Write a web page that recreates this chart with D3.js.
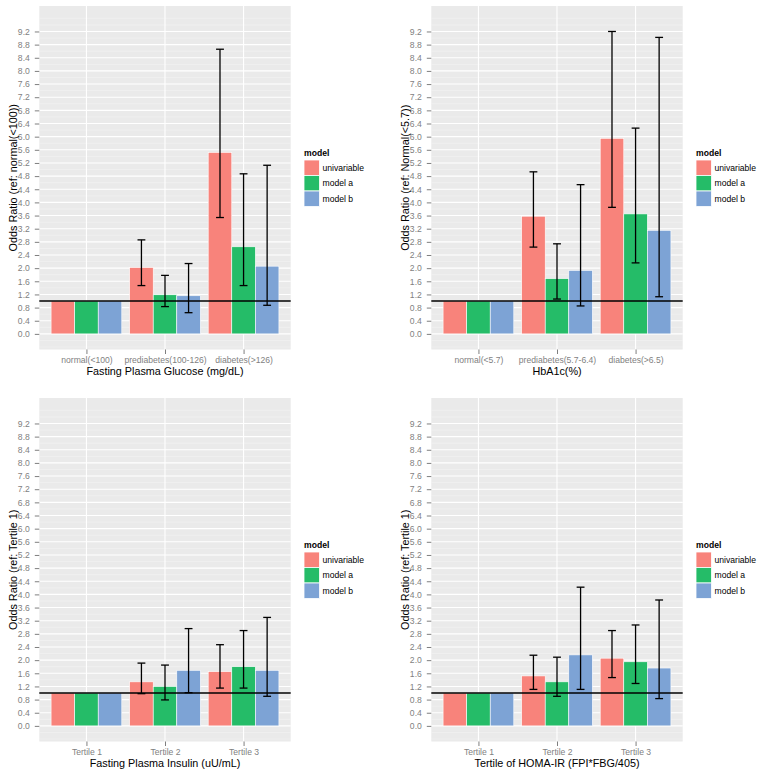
<!DOCTYPE html>
<html>
<head>
<meta charset="utf-8">
<script src="https://cdn.jsdelivr.net/npm/d3@7"></script>
<style>
  html, body { margin: 0; padding: 0; background: #ffffff; }
  svg { display: block; font-family: "Liberation Sans", Arial, sans-serif; }
</style>
</head>
<body>
<svg id="chart" width="763" height="776"></svg>
<script>
// ---------- data ----------
const models = ["univariable", "model a", "model b"];
const modelColors = ["#F8837B", "#25BC68", "#7DA3D5"];
const yTicks = [0.0, 0.4, 0.8, 1.2, 1.6, 2.0, 2.4, 2.8, 3.2, 3.6, 4.0, 4.4, 4.8, 5.2, 5.6, 6.0, 6.4, 6.8, 7.2, 7.6, 8.0, 8.4, 8.8, 9.2];
const yMinor = [-0.4, -0.2, 0.2, 0.6, 1.0, 1.4, 1.8, 2.2, 2.6, 3.0, 3.4, 3.8, 4.2, 4.6, 5.0, 5.4, 5.8, 6.2, 6.6, 7.0, 7.4, 7.8, 8.2, 8.6, 9.0, 9.4, 9.6];
const refLine = 1;

// Panel 1: Fasting Plasma Glucose
const fpgCats = ["normal(<100)", "prediabetes(100-126)", "diabetes(>126)"];
const fpgOR   = [[1, 1, 1], [2.02, 1.19, 1.16], [5.52, 2.65, 2.06]];
const fpgLow  = [null, [1.47, 0.83, 0.645], [3.54, 1.47, 0.87]];
const fpgHigh = [null, [2.86, 1.78, 2.14], [8.66, 4.87, 5.13]];

// Panel 2: HbA1c
const hbaCats = ["normal(<5.7)", "prediabetes(5.7-6.4)", "diabetes(>6.5)"];
const hbaOR   = [[1, 1, 1], [3.58, 1.68, 1.93], [5.95, 3.65, 3.15]];
const hbaLow  = [null, [2.64, 1.06, 0.85], [3.85, 2.16, 1.13]];
const hbaHigh = [null, [4.93, 2.74, 4.54], [9.20, 6.26, 9.02]];

// Panel 3: Fasting Plasma Insulin
const fpiCats = ["Tertile 1", "Tertile 2", "Tertile 3"];
const fpiOR   = [[1, 1, 1], [1.34, 1.20, 1.69], [1.65, 1.80, 1.69]];
const fpiLow  = [null, [0.98, 0.79, 1.01], [1.15, 1.15, 0.90]];
const fpiHigh = [null, [1.91, 1.85, 2.96], [2.47, 2.90, 3.30]];

// Panel 4: HOMA-IR
const homaCats = ["Tertile 1", "Tertile 2", "Tertile 3"];
const homaOR   = [[1, 1, 1], [1.52, 1.34, 2.16], [2.06, 1.95, 1.76]];
const homaLow  = [null, [1.11, 0.90, 1.11], [1.47, 1.29, 0.83]];
const homaHigh = [null, [2.15, 2.09, 4.22], [2.90, 3.07, 3.83]];

const panels = [
  { cats: fpgCats, or: fpgOR, lo: fpgLow, hi: fpgHigh, xTitle: "Fasting Plasma Glucose (mg/dL)", yTitle: "Odds Ratio (ref: normal(<100))", ox: 0, oy: 0 },
  { cats: hbaCats, or: hbaOR, lo: hbaLow, hi: hbaHigh, xTitle: "HbA1c(%)", yTitle: "Odds Ratio (ref: Normal(<5.7))", ox: 392, oy: 0 },
  { cats: fpiCats, or: fpiOR, lo: fpiLow, hi: fpiHigh, xTitle: "Fasting Plasma Insulin (uU/mL)", yTitle: "Odds Ratio (ref: Tertile 1)", ox: 0, oy: 392 },
  { cats: homaCats, or: homaOR, lo: homaLow, hi: homaHigh, xTitle: "Tertile of HOMA-IR (FPI*FBG/405)", yTitle: "Odds Ratio (ref: Tertile 1)", ox: 392, oy: 392 }
];

// ---------- layout ----------
const P = { left: 39.3, right: 290.7, top: 6, bottom: 349.5 };
const yDomain = [-0.475, 9.975];
const tickCol = "#7F7F7F";
const svg = d3.select("#chart");

panels.forEach(p => {
  const g = svg.append("g").attr("transform", `translate(${p.ox},${p.oy})`);
  const y = d3.scaleLinear().domain(yDomain).range([P.bottom, P.top]);
  const x = d3.scalePoint().domain(p.cats).range([P.left, P.right]).padding(0.6);
  const step = x.step();
  const xm = d3.scaleBand().domain(models).range([-0.45 * step, 0.45 * step]).padding(0);
  const ebW = 0.1 * step;

  // panel background
  g.append("rect").attr("x", P.left).attr("y", P.top)
    .attr("width", P.right - P.left).attr("height", P.bottom - P.top)
    .attr("fill", "#EAEAEA");

  // minor grid
  g.selectAll(".gmin").data(yMinor).join("line")
    .attr("x1", P.left).attr("x2", P.right)
    .attr("y1", d => y(d)).attr("y2", d => y(d))
    .attr("stroke", "#F4F4F4").attr("stroke-width", 0.6);
  // major grid
  g.selectAll(".gmaj").data(yTicks).join("line")
    .attr("x1", P.left).attr("x2", P.right)
    .attr("y1", d => y(d)).attr("y2", d => y(d))
    .attr("stroke", "#FFFFFF").attr("stroke-width", 1.1);
  g.selectAll(".gx").data(p.cats).join("line")
    .attr("x1", d => x(d)).attr("x2", d => x(d))
    .attr("y1", P.top).attr("y2", P.bottom)
    .attr("stroke", "#FFFFFF").attr("stroke-width", 1.1);

  // bars
  p.cats.forEach((c, ci) => {
    models.forEach((m, mi) => {
      const v = p.or[ci][mi];
      g.append("rect")
        .attr("x", x(c) + xm(m))
        .attr("y", y(v))
        .attr("width", xm.bandwidth())
        .attr("height", y(0) - y(v))
        .attr("fill", modelColors[mi])
        .attr("stroke", "#FFFFFF").attr("stroke-width", 0.6);
    });
  });

  // reference line
  g.append("line")
    .attr("x1", P.left).attr("x2", P.right)
    .attr("y1", y(refLine)).attr("y2", y(refLine))
    .attr("stroke", "#000").attr("stroke-width", 1.3);

  // error bars
  p.cats.forEach((c, ci) => {
    if (!p.lo[ci]) return;
    models.forEach((m, mi) => {
      const cx = x(c) + xm(m) + xm.bandwidth() / 2;
      const lo = p.lo[ci][mi], hi = p.hi[ci][mi];
      const eg = g.append("g").attr("stroke", "#000").attr("stroke-width", 1.3).attr("fill", "none");
      eg.append("line").attr("x1", cx).attr("x2", cx).attr("y1", y(lo)).attr("y2", y(hi));
      eg.append("line").attr("x1", cx - ebW / 2).attr("x2", cx + ebW / 2).attr("y1", y(lo)).attr("y2", y(lo));
      eg.append("line").attr("x1", cx - ebW / 2).attr("x2", cx + ebW / 2).attr("y1", y(hi)).attr("y2", y(hi));
    });
  });

  // y axis
  const ya = g.append("g").attr("transform", `translate(${P.left},0)`)
    .call(d3.axisLeft(y).tickValues(yTicks).tickFormat(d3.format(".1f")).tickSize(4.5).tickSizeOuter(0).tickPadding(5));
  ya.select(".domain").remove();
  ya.selectAll("line").attr("stroke", tickCol);
  ya.selectAll("text").attr("fill", tickCol).attr("font-size", 8.6)
    .attr("font-family", "Liberation Sans, Arial, sans-serif");

  // x axis
  const xa = g.append("g").attr("transform", `translate(0,${P.bottom})`)
    .call(d3.axisBottom(x).tickSize(4.5).tickSizeOuter(0).tickPadding(2.5));
  xa.select(".domain").remove();
  xa.selectAll("line").attr("stroke", tickCol);
  xa.selectAll("text").attr("fill", tickCol).attr("font-size", 8.6)
    .attr("font-family", "Liberation Sans, Arial, sans-serif");

  // axis titles
  g.append("text").attr("x", (P.left + P.right) / 2).attr("y", 374.5)
    .attr("text-anchor", "middle").attr("font-size", 10.8).attr("fill", "#000")
    .text(p.xTitle);
  g.append("text")
    .attr("transform", `translate(16.5,${(P.top + P.bottom) / 2}) rotate(-90)`)
    .attr("text-anchor", "middle").attr("font-size", 10.8).attr("fill", "#000")
    .text(p.yTitle);

  // legend
  const lg = g.append("g").attr("transform", "translate(304,0)");
  lg.append("text").attr("x", 0).attr("y", 156).attr("font-size", 8.6)
    .attr("font-weight", "bold").attr("fill", "#000").text("model");
  models.forEach((m, mi) => {
    const ky = 160 + mi * 15.5;
    lg.append("rect").attr("x", 0).attr("y", ky).attr("width", 15.5).attr("height", 15.5)
      .attr("fill", modelColors[mi]).attr("stroke", "#FFFFFF").attr("stroke-width", 0.8);
    lg.append("text").attr("x", 18.5).attr("y", ky + 7.75).attr("dy", "0.35em")
      .attr("font-size", 8.6).attr("fill", "#000").text(m);
  });
});
</script>
</body>
</html>
